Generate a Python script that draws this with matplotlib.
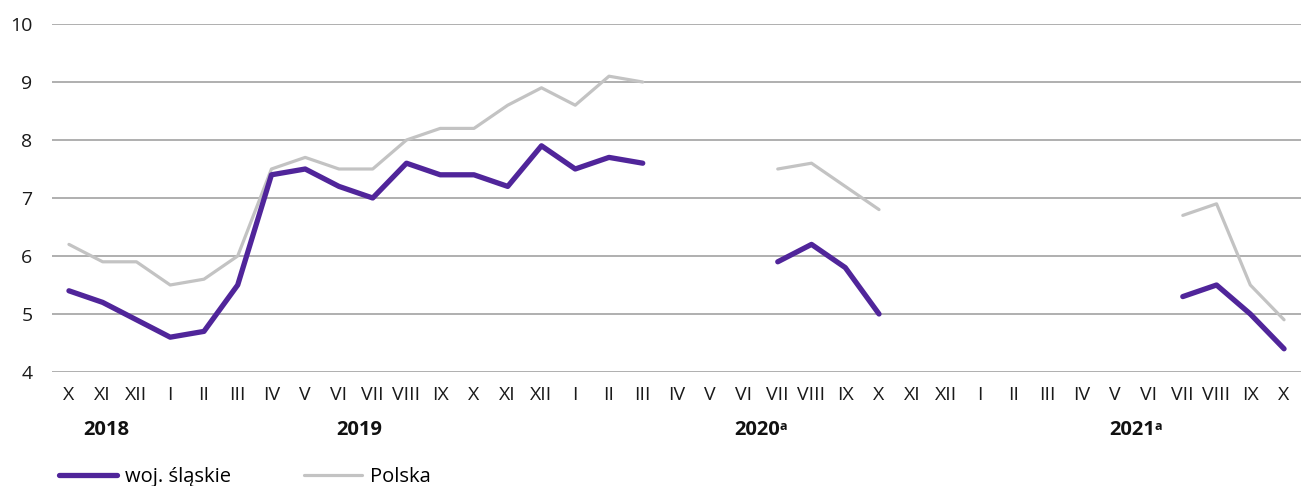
import numpy as np
import matplotlib
matplotlib.use("Agg")
import matplotlib.pyplot as plt
from matplotlib.lines import Line2D
import matplotlib.transforms as mtransforms

plt.rcParams['font.family'] = ['Open Sans', 'DejaVu Sans']

months = ["X", "XI", "XII", "I", "II", "III", "IV", "V", "VI", "VII", "VIII", "IX",
          "X", "XI", "XII", "I", "II", "III", "IV", "V", "VI", "VII", "VIII", "IX",
          "X", "XI", "XII", "I", "II", "III", "IV", "V", "VI", "VII", "VIII", "IX", "X"]
nan = np.nan
slaskie = [5.4, 5.2, 4.9, 4.6, 4.7, 5.5, 7.4, 7.5, 7.2, 7.0, 7.6, 7.4, 7.4, 7.2, 7.9, 7.5, 7.7, 7.6,
           nan, nan, nan, 5.9, 6.2, 5.8, 5.0,
           nan, nan, nan, nan, nan, nan, nan, nan, 5.3, 5.5, 5.0, 4.4]
polska = [6.2, 5.9, 5.9, 5.5, 5.6, 6.0, 7.5, 7.7, 7.5, 7.5, 8.0, 8.2, 8.2, 8.6, 8.9, 8.6, 9.1, 9.0,
          nan, nan, nan, 7.5, 7.6, 7.2, 6.8,
          nan, nan, nan, nan, nan, nan, nan, nan, 6.7, 6.9, 5.5, 4.9]
year_labels = ["2018", "2019", "2020", "2021"]
year_sup = ["", "", "a", "a"]
year_pos = [1.12, 8.6, 20.4, 31.5]
yticks = [4, 5, 6, 7, 8, 9, 10]

fig = plt.figure(figsize=(13.08, 4.86), dpi=100)
ax = fig.add_axes([0.0398, 0.2346, 0.9548, 0.716])

x = np.arange(len(months))
purple = '#50259a'
grey = '#c3c3c3'
ax.plot(x, polska, color=grey, lw=2.3, solid_capstyle='round', zorder=3)
ax.plot(x, slaskie, color=purple, lw=3.8, solid_capstyle='round', zorder=4)

ax.set_xlim(-0.5, len(months) - 0.5)
ax.set_ylim(4, 10)
ax.set_yticks(yticks)
ax.set_yticklabels([str(v) for v in yticks], fontsize=14, color='#1a1a1a')
ax.set_xticks(x)
ax.set_xticklabels(months, fontsize=14, color='#1a1a1a')
ax.tick_params(length=0)
ax.tick_params(axis='x', pad=10)
ax.tick_params(axis='y', pad=14)
ax.grid(axis='y', color='#9a9a9a', lw=1.1, zorder=0)
for s in ax.spines.values():
    s.set_visible(False)

trans = mtransforms.blended_transform_factory(ax.transData, fig.transFigure)
ybase = 1 - 430 / 486
fig.canvas.draw()
for lbl, sup, p in zip(year_labels, year_sup, year_pos):
    t = fig.text(p, ybase, lbl, transform=trans, ha='center', va='center',
                 fontsize=14.5, fontweight='bold', color='#111111')
    if sup:
        bb = t.get_window_extent(renderer=fig.canvas.get_renderer())
        fig.text(bb.x1 - 1, bb.y1 - 6, sup, transform=None, ha='left', va='center',
                 fontsize=9, fontweight='bold', color='#111111')

handles = [Line2D([], [], color=purple, lw=3.8, solid_capstyle='round'),
           Line2D([], [], color=grey, lw=2.3, solid_capstyle='round')]
fig.legend(handles, ["woj. śląskie", "Polska"], loc='center left',
           bbox_to_anchor=(0.031, 1 - 477 / 486), ncol=2, frameon=False,
           fontsize=14.5, handlelength=2.9, handletextpad=0.4, columnspacing=3.6)

fig.savefig("out.png", dpi=100)
